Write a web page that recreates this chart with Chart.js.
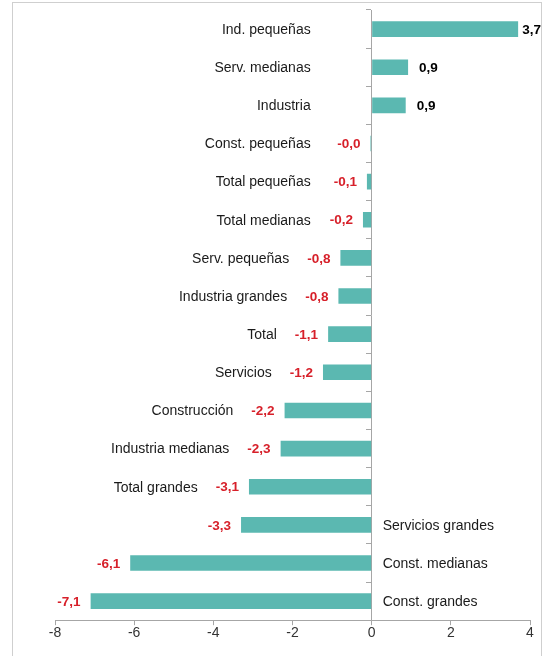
<!DOCTYPE html>
<html>
<head>
<meta charset="utf-8">
<script src="https://cdn.jsdelivr.net/npm/chart.js@4"></script>
<style>
  body { margin: 0; background: #fff; }
  #wrap { position: relative; width: 545px; height: 656px; }
</style>
</head>
<body>
<div id="wrap"><canvas id="chart" width="545" height="656"></canvas></div>
<script>
const categories = [
    'Ind. pequeñas', 'Serv. medianas', 'Industria', 'Const. pequeñas',
    'Total pequeñas', 'Total medianas', 'Serv. pequeñas', 'Industria grandes',
    'Total', 'Servicios', 'Construcción', 'Industria medianas',
    'Total grandes', 'Servicios grandes', 'Const. medianas', 'Const. grandes'
];
const values = [
    3.7, 0.92, 0.86, -0.03,
    -0.12, -0.22, -0.79, -0.84,
    -1.1, -1.23, -2.2, -2.3,
    -3.1, -3.3, -6.1, -7.1
];
const xTicks = [-8, -6, -4, -2, 0, 2, 4];

const FONT = "'Liberation Sans', Arial, sans-serif";
const AXIS_GREY = '#a6a6a6';
const BAR_COLOR = '#5bb8b1';
const NEG_COLOR = '#d7202a';
// bars longer than this get their category name on the right of the axis
const flipBelow = -3.2;

const fmt = v => v.toFixed(1).replace('.', ',');

const labelPlugin = {
    id: 'barLabels',
    beforeDraw(chart) {
        const ctx = chart.ctx;
        ctx.save();
        ctx.strokeStyle = '#cfcfcf';
        ctx.lineWidth = 1;
        ctx.strokeRect(12.5, 2.5, 529, 700);
        ctx.restore();
    },
    afterDatasetsDraw(chart) {
        const ctx = chart.ctx;
        const zeroX = chart.scales.x.getPixelForValue(0);
        const bars = chart.getDatasetMeta(0).data;
        ctx.save();
        ctx.textBaseline = 'middle';
        bars.forEach((bar, i) => {
            const v = values[i];
            const y = bar.y + 1;
            ctx.font = 'bold 13.5px ' + FONT;
            const txt = fmt(v);
            const w = ctx.measureText(txt).width;
            let valueLeft;
            if (v >= 0) {
                let x = bar.x + 11;
                if (x + w > chart.width - 4) x = chart.width - 4 - w;
                ctx.fillStyle = '#000';
                ctx.textAlign = 'left';
                ctx.fillText(txt, x, y);
                valueLeft = zeroX;
            } else {
                ctx.fillStyle = NEG_COLOR;
                ctx.textAlign = 'right';
                ctx.fillText(txt, bar.x - 10, y);
                valueLeft = bar.x - 10 - w;
            }

            ctx.font = '14px ' + FONT;
            ctx.fillStyle = '#1a1a1a';
            if (v < flipBelow) {
                ctx.textAlign = 'left';
                ctx.fillText(categories[i], zeroX + 11, y);
            } else {
                ctx.textAlign = 'right';
                ctx.fillText(categories[i], Math.min(zeroX - 61, valueLeft - 18), y);
            }
        });
        ctx.restore();
    }
};

new Chart(document.getElementById('chart'), {
    type: 'bar',
    data: {
        labels: categories,
        datasets: [{
            data: values,
            backgroundColor: BAR_COLOR,
            borderWidth: 0,
            categoryPercentage: 1,
            barPercentage: 0.41
        }]
    },
    options: {
        indexAxis: 'y',
        responsive: false,
        animation: false,
        layout: { padding: { left: 55, right: 15, top: 10, bottom: 14 } },
        plugins: {
            legend: { display: false },
            tooltip: { enabled: false }
        },
        scales: {
            x: {
                type: 'linear',
                min: -8,
                max: 4,
                afterBuildTicks: axis => { axis.ticks = xTicks.map(v => ({ value: v })); },
                ticks: {
                    color: '#333',
                    padding: 0,
                    font: { family: FONT, size: 14 },
                    callback: v => String(v)
                },
                grid: { drawOnChartArea: false, drawTicks: true, tickLength: 5, color: AXIS_GREY },
                border: { color: AXIS_GREY, width: 1 }
            },
            y: {
                position: { x: 0 },
                ticks: { display: false },
                grid: { drawOnChartArea: false, drawTicks: true, tickLength: 5, offset: true, color: AXIS_GREY },
                border: { color: AXIS_GREY, width: 1 }
            }
        }
    },
    plugins: [labelPlugin]
});
</script>
</body>
</html>
